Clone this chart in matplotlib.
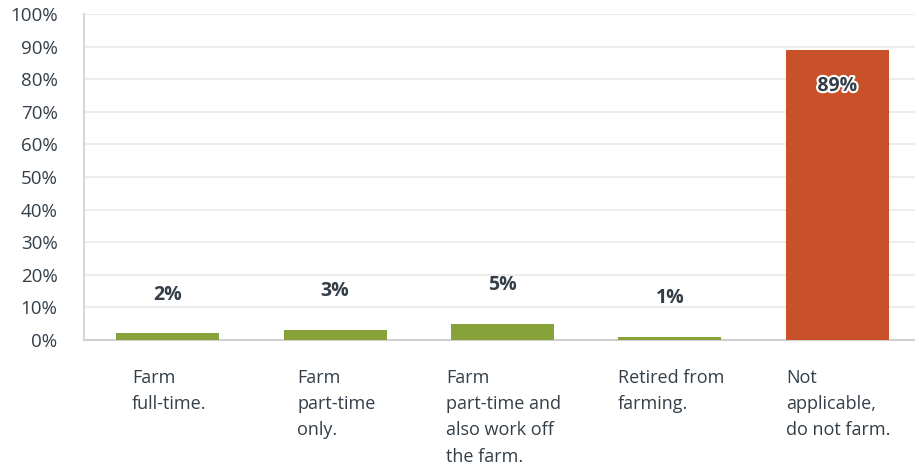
import matplotlib
matplotlib.use("Agg")
import matplotlib.pyplot as plt
import matplotlib.patheffects as pe

categories = ["Farm\nfull-time.", "Farm\npart-time\nonly.", "Farm\npart-time and\nalso work off\nthe farm.",
              "Retired from\nfarming.", "Not\napplicable,\ndo not farm."]
values = [2, 3, 5, 1, 89]
value_labels = ["2%", "3%", "5%", "1%", "89%"]
yticks = [0, 10, 20, 30, 40, 50, 60, 70, 80, 90, 100]
colors = ["#87a23b", "#87a23b", "#87a23b", "#87a23b", "#c8512a"]

plt.rcParams['font.family'] = ['Open Sans', 'DejaVu Sans']
txt = "#333e48"

W, H = 915, 472
left, right, top, bottom = 84, 921, 14, 340
fig = plt.figure(figsize=(W/100, H/100), dpi=100)
ax = fig.add_axes([left/W, 1-bottom/H, (right-left)/W, (bottom-top)/H])
x = list(range(len(values)))
ax.bar(x, values, width=0.616, color=colors, zorder=3)
ax.set_xlim(-0.5, len(values)-0.5)
ax.set_ylim(0, 100)
ax.set_yticks(yticks)
ax.set_yticklabels([f"{t}%" for t in yticks], fontsize=13.5, color=txt)
ax.tick_params(axis='y', length=0, pad=19)
ax.tick_params(axis='x', length=0)
ax.set_xticks([])
ax.grid(axis='y', color="#ebebeb", linewidth=1.3, zorder=0)
for s in ['top', 'right']:
    ax.spines[s].set_visible(False)
ax.spines['left'].set_color("#d6d6d6")
ax.spines['left'].set_linewidth(1.5)
ax.spines['bottom'].set_color("#d0d0d0")
ax.spines['bottom'].set_linewidth(1.5)

for xi, v, lab in zip(x, values, value_labels):
    if v > 50:
        t = ax.annotate(lab, (xi, v), xytext=(0, -26), textcoords='offset points',
                        ha='center', va='center', fontsize=14, fontweight='bold', color=txt, zorder=5)
        t.set_path_effects([pe.withStroke(linewidth=3, foreground='white')])
    else:
        ax.annotate(lab, (xi, v), xytext=(0, 28), textcoords='offset points',
                    ha='center', va='center', fontsize=14, fontweight='bold', color=txt, zorder=5)

for xi, cat in zip(x, categories):
    ax.annotate(cat, (xi, 0), xytext=(1, -21), textcoords='offset points',
                ha='center', va='top', multialignment='left', fontsize=13, color=txt,
                linespacing=1.58)

fig.savefig("out.png", dpi=100, facecolor='white')
